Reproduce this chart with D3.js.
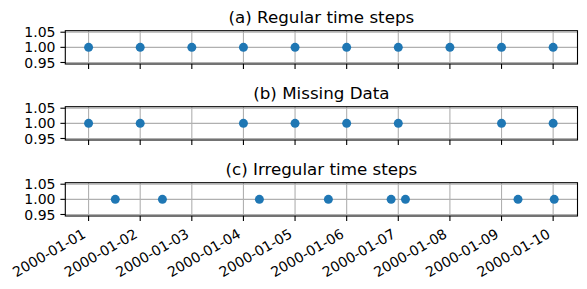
<!DOCTYPE html>
<html>
<head>
<meta charset="utf-8">
<script src="https://cdn.jsdelivr.net/npm/d3@7.9.0/dist/d3.min.js"></script>
<style>
  body { margin: 0; background: #fff; }
  svg { display: block; font-family: "DejaVu Sans", sans-serif; }
</style>
</head>
<body>
<svg id="chart" width="587" height="289"></svg>
<script>
// ========== Data ==========
const titles = ['(a) Regular time steps', '(b) Missing Data', '(c) Irregular time steps'];

const regularDates = ['2000-01-01', '2000-01-02', '2000-01-03', '2000-01-04', '2000-01-05',
  '2000-01-06', '2000-01-07', '2000-01-08', '2000-01-09', '2000-01-10'];
const regularValues = [1, 1, 1, 1, 1, 1, 1, 1, 1, 1];

const missingDates = ['2000-01-01', '2000-01-02', '2000-01-04', '2000-01-05',
  '2000-01-06', '2000-01-07', '2000-01-09', '2000-01-10'];
const missingValues = [1, 1, 1, 1, 1, 1, 1, 1];

const irregularDates = ['2000-01-01T12:25', '2000-01-02T10:20', '2000-01-04T07:25', '2000-01-05T15:30',
  '2000-01-06T20:40', '2000-01-07T03:20', '2000-01-09T07:40', '2000-01-10T00:30'];
const irregularValues = [1, 1, 1, 1, 1, 1, 1, 1];

const xTickDates = regularDates;
const yTicks = [0.95, 1.00, 1.05];

// ========== Layout ==========
const parse = (s) => new Date(s + (s.length === 10 ? 'T00:00Z' : 'Z'));
const panels = [
  { title: titles[0], dates: regularDates, values: regularValues, top: 30.7 },
  { title: titles[1], dates: missingDates, values: missingValues, top: 106.7 },
  { title: titles[2], dates: irregularDates, values: irregularValues, top: 182.7 },
];
const left = 65.3, right = 577.5, panelH = 33.3;
const tickLen = 4.9, pad = 4.9;
const blue = '#1f77b4';
const tickFont = 14, titleFont = 16.7;

const svg = d3.select('#chart');

// shared x domain with 5% margins like matplotlib
const allDates = panels.flatMap((p) => p.dates.map(parse));
const [xMin, xMax] = d3.extent(allDates);
const span = xMax - xMin;
const x = d3.scaleUtc()
  .domain([new Date(+xMin - span * 0.05), new Date(+xMax + span * 0.05)])
  .range([left, right]);

panels.forEach((p, i) => {
  const y = d3.scaleLinear()
    .domain([0.945, 1.055])
    .range([p.top + panelH, p.top]);

  const g = svg.append('g');

  // === grid ===
  xTickDates.forEach((d) => {
    const px = x(parse(d));
    g.append('line')
      .attr('x1', px).attr('x2', px)
      .attr('y1', p.top).attr('y2', p.top + panelH)
      .attr('stroke', '#b0b0b0').attr('stroke-width', 1.1);
  });
  yTicks.forEach((t) => {
    g.append('line')
      .attr('x1', left).attr('x2', right)
      .attr('y1', y(t)).attr('y2', y(t))
      .attr('stroke', '#b0b0b0').attr('stroke-width', 1.1);
  });

  // === points ===
  g.selectAll('circle.pt')
    .data(p.dates.map((d, j) => ({ date: parse(d), value: p.values[j] })))
    .join('circle')
    .attr('class', 'pt')
    .attr('cx', (d) => x(d.date))
    .attr('cy', (d) => y(d.value))
    .attr('r', 4.5)
    .attr('fill', blue);

  // === frame ===
  g.append('rect')
    .attr('x', left).attr('y', p.top)
    .attr('width', right - left).attr('height', panelH)
    .attr('fill', 'none').attr('stroke', '#000').attr('stroke-width', 1.1);

  // === y ticks ===
  yTicks.forEach((t) => {
    g.append('line')
      .attr('x1', left - tickLen).attr('x2', left)
      .attr('y1', y(t)).attr('y2', y(t))
      .attr('stroke', '#000').attr('stroke-width', 1.1);
    g.append('text')
      .attr('x', left - tickLen - pad)
      .attr('y', y(t))
      .attr('dy', '0.36em')
      .attr('text-anchor', 'end')
      .attr('font-size', tickFont)
      .attr('fill', '#000')
      .text(d3.format('.2f')(t));
  });

  // === x ticks ===
  const bottom = p.top + panelH;
  xTickDates.forEach((d) => {
    const px = x(parse(d));
    g.append('line')
      .attr('x1', px).attr('x2', px)
      .attr('y1', bottom).attr('y2', bottom + tickLen)
      .attr('stroke', '#000').attr('stroke-width', 1.1);
  });

  // labels only on the last panel (shared x)
  if (i === panels.length - 1) {
    xTickDates.forEach((d) => {
      const px = x(parse(d));
      const h = tickFont * 1.16;
      g.append('text')
        .attr('transform', `translate(${px - h / 2},${bottom + tickLen + pad}) rotate(-30)`)
        .attr('dy', '0.9em')
        .attr('text-anchor', 'end')
        .attr('font-size', tickFont)
        .attr('fill', '#000')
        .text(d3.utcFormat('%Y-%m-%d')(parse(d)));
    });
  }

  // === title ===
  g.append('text')
    .attr('x', (left + right) / 2)
    .attr('y', p.top - 7.5)
    .attr('text-anchor', 'middle')
    .attr('font-size', titleFont)
    .attr('fill', '#000')
    .text(p.title);
});
</script>
</body>
</html>
